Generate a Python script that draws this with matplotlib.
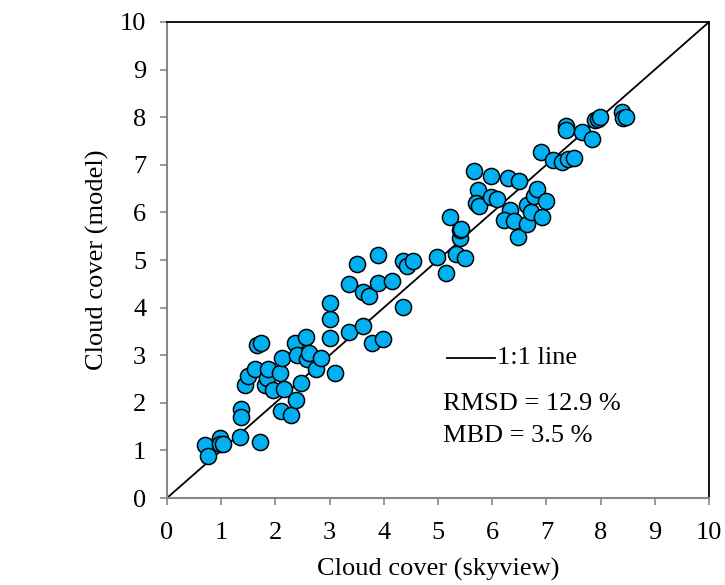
import matplotlib
matplotlib.use("Agg")
from matplotlib import pyplot as plt
import numpy as np

# cloud cover (skyview vs model)
sky = [0.70, 0.76, 0.97, 0.98, 1.04, 1.35, 1.72, 1.37, 1.37, 1.44,
       1.50, 1.62, 1.67, 1.73, 1.81, 1.84, 1.87, 1.96, 2.08, 2.10,
       2.12, 2.16, 2.29, 2.36, 2.38, 2.39, 2.47, 2.56, 2.58, 2.62,
       2.75, 2.85, 3.10, 3.01, 3.01, 3.01, 3.36, 3.35, 3.51, 3.62,
       3.62, 3.73, 3.78, 3.98, 3.90, 3.90, 4.15, 4.35, 4.35, 4.42,
       4.54, 4.99, 5.14, 5.34, 5.50, 5.41, 5.41, 5.22, 5.42, 5.66,
       5.74, 5.70, 5.76, 5.98, 5.97, 6.09, 6.30, 6.50, 6.33, 6.22,
       6.41, 6.48, 6.65, 6.64, 6.71, 6.78, 6.82, 6.91, 6.99, 6.90,
       7.13, 7.28, 7.40, 7.50, 7.37, 7.37, 7.65, 7.84, 7.90, 7.96,
       7.99, 8.39, 8.42, 8.47]
model = [1.12, 0.89, 1.26, 1.14, 1.14, 1.28, 1.17, 1.86, 1.70, 2.38,
         2.57, 2.70, 3.21, 3.25, 2.38, 2.52, 2.70, 2.26, 2.62, 1.82,
         2.95, 2.29, 1.75, 3.25, 2.05, 3.00, 2.42, 3.39, 2.91, 3.04,
         2.70, 2.95, 2.63, 3.37, 3.77, 4.09, 3.49, 4.49, 4.92, 3.61,
         4.32, 4.25, 3.26, 3.35, 5.11, 4.51, 4.56, 4.01, 4.98, 4.88,
         4.98, 5.07, 4.72, 5.13, 5.04, 5.46, 5.62, 5.91, 5.65, 6.86,
         6.48, 6.20, 6.13, 6.77, 6.32, 6.29, 6.73, 6.65, 6.05, 5.83,
         5.81, 5.48, 5.76, 6.16, 6.01, 6.34, 6.50, 5.90, 6.24, 7.26,
         7.10, 7.06, 7.13, 7.15, 7.82, 7.73, 7.69, 7.55, 7.94, 7.96,
         8.01, 8.10, 7.99, 8.01]

stats = ["RMSD = 12.9 %", "MBD = 3.5 %"]

plt.rcParams["font.family"] = ["Liberation Serif", "DejaVu Serif"]
fs = 19

fig = plt.figure(figsize=(7.25, 5.85), dpi=100)
ax = fig.add_axes([0.2303, 0.1487, 0.7477, 0.8137])

ax.plot([0, 10], [0, 10], color="black", lw=1.3, zorder=2)
ax.scatter(sky, model, s=135, color="#00B0F0", edgecolor="black",
           linewidth=1.1, zorder=3)

ax.set_xlim(0, 10)
ax.set_ylim(0, 10)
ax.set_xticks(range(11))
ax.set_yticks(range(11))
ax.tick_params(labelsize=fs, direction="out", length=5, color="#888888",
               width=1.2)
ax.tick_params(axis="x", pad=12)
ax.tick_params(axis="y", pad=10)
for side in ["left", "bottom"]:
    ax.spines[side].set_color("#888888")
    ax.spines[side].set_linewidth(1.5)
for side in ["right", "top"]:
    ax.spines[side].set_color("black")
    ax.spines[side].set_linewidth(1.3)

ax.set_xlabel("Cloud cover (skyview)", fontsize=fs, labelpad=10)
ax.set_ylabel("Cloud cover (model)", fontsize=fs, labelpad=8)

# legend drawn by hand like the original
ax.plot([5.17, 6.05], [2.95, 2.95], color="black", lw=1.3)
ax.text(6.08, 2.95, "1:1 line", fontsize=fs, va="center")
ax.text(5.09, 1.97, stats[0], fontsize=fs, va="center")
ax.text(5.09, 1.31, stats[1], fontsize=fs, va="center")

fig.savefig("out.png", dpi=100)
